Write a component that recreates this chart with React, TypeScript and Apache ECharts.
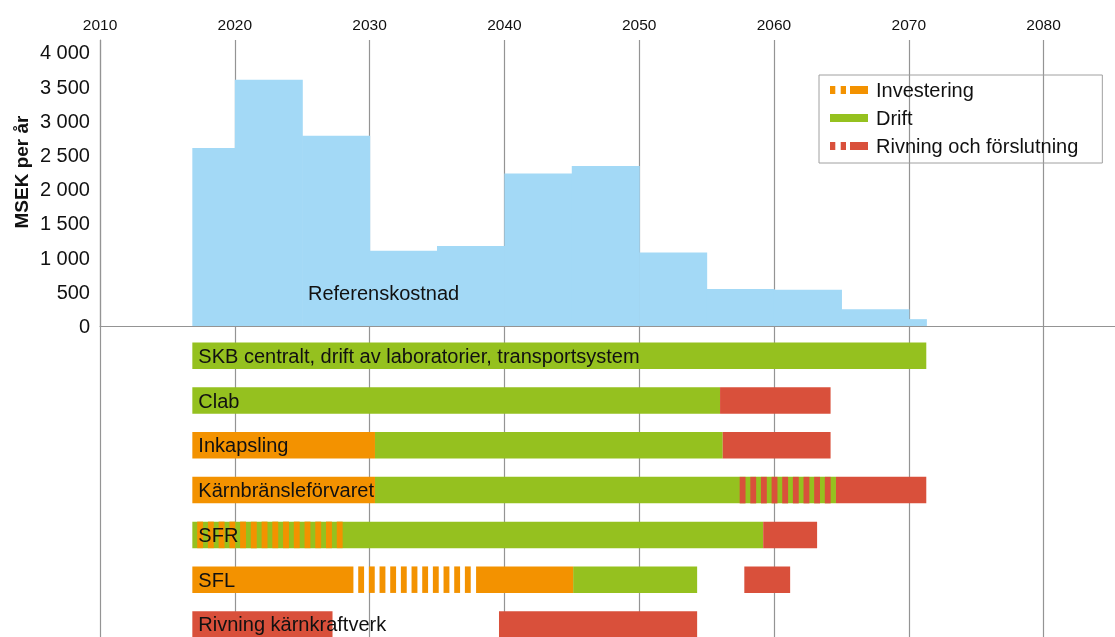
import React, { useEffect, useRef } from "react";
import * as echarts from "echarts";

// ---- Data ----
const costStart = [2016.85, 2020, 2025, 2030, 2035, 2040, 2045, 2050, 2055, 2060, 2065, 2070];
const costEnd = [2020, 2025, 2030, 2035, 2040, 2045, 2050, 2055, 2060, 2065, 2070, 2071.3];
const costValue = [2600, 3600, 2780, 1100, 1170, 2230, 2340, 1075, 540, 528, 244, 100];

const rowNames = [
  "SKB centralt, drift av laboratorier, transportsystem",
  "Clab",
  "Inkapsling",
  "Kärnbränsleförvaret",
  "SFR",
  "SFL",
  "Rivning kärnkraftverk",
];
const rowLabelStart = [2016.85, 2016.85, 2016.85, 2016.85, 2016.85, 2016.85, 2016.85];

// [row, start, end, striped(1) / solid(0)]
const investering = [
  [2, 2016.85, 2030.4, 0],
  [3, 2016.85, 2030.4, 0],
  [4, 2016.85, 2028.4, 1],
  [5, 2016.85, 2028.8, 0],
  [5, 2028.8, 2037.9, 1],
  [5, 2037.9, 2045.1, 0],
];
const drift = [
  [0, 2016.85, 2071.3, 0],
  [1, 2016.85, 2056.0, 0],
  [2, 2030.4, 2056.2, 0],
  [3, 2030.4, 2064.6, 0],
  [4, 2016.85, 2059.2, 0],
  [5, 2045.1, 2054.3, 0],
];
const rivning = [
  [1, 2056.0, 2064.2, 0],
  [2, 2056.2, 2064.2, 0],
  [3, 2057.1, 2064.6, 1],
  [3, 2064.6, 2071.3, 0],
  [4, 2059.2, 2063.2, 0],
  [5, 2057.8, 2061.2, 0],
  [6, 2016.85, 2027.25, 0],
  [6, 2039.6, 2054.3, 0],
];

const legendNames = ["Investering", "Drift", "Rivning och förslutning"];

// ---- Styles ----
const FONT = "'Liberation Sans', Arial, Helvetica, sans-serif";
const BLUE = "#a3d9f6";
const GREEN = "#95c11f";
const ORANGE = "#f39200";
const RED = "#d9503b";
const GRID = "#949494";
const BAR_H = 26.5;
const FS = 20;

function fmtThousands(v: number): string {
  if (v >= 1000) {
    const th = Math.floor(v / 1000);
    const rest = String(v % 1000).padStart(3, "0");
    return th + " " + rest;
  }
  return String(v);
}

function ganttRender(color: string) {
  return (params: any, api: any) => {
    const row = api.value(0);
    const s = api.value(1);
    const e = api.value(2);
    const striped = api.value(3);
    const a = api.coord([s, row]);
    const b = api.coord([e, row]);
    const x0 = a[0];
    const w = b[0] - a[0];
    const y = a[1] - BAR_H / 2;
    if (!striped) {
      return {
        type: "rect",
        shape: { x: x0, y, width: w, height: BAR_H },
        style: { fill: color },
      };
    }
    const n = Math.max(1, Math.round(w / 10.4 - 0.5));
    const p = w / (n + 0.5);
    const children: any[] = [];
    for (let i = 0; i < n; i++) {
      children.push({
        type: "rect",
        shape: { x: x0 + p * 0.45 + i * p, y, width: p * 0.55, height: BAR_H },
        style: { fill: color },
      });
    }
    return { type: "group", children };
  };
}

export default function App() {
  const ref = useRef<HTMLDivElement>(null);

  useEffect(() => {
    if (!ref.current) return;
    const chart = echarts.init(ref.current, undefined, { renderer: "svg" });

    const costData = costStart.map((s, i) => [s, costEnd[i], costValue[i]]);
    const labelData = rowNames.map((_, i) => [i, rowLabelStart[i]]);
    const dashIcon = "path://M0,0H5.3V8H0Z M10.7,0H16V8H10.7Z M20,0H38V8H20Z";
    const solidIcon = "path://M0,0H38V8H0Z";

    const xCommon = {
      type: "value",
      min: 2010,
      max: 2085.3,
      interval: 10,
      position: "top",
      axisTick: { show: false },
      splitLine: {
        show: true,
        showMaxLine: false,
        lineStyle: { color: GRID, width: 1.2 },
      },
    };

    const option: any = {
      animation: false,
      grid: [
        { left: 100, right: 0, top: 40, height: 286 },
        { left: 100, right: 0, top: 326, height: 311 },
      ],
      xAxis: [
        {
          ...xCommon,
          gridIndex: 0,
          axisLine: { show: false, onZero: false },
          axisLabel: {
            show: true,
            fontSize: 15.5,
            fontFamily: FONT,
            color: "#111",
            margin: 8,
            showMaxLabel: false,
            formatter: (v: number) => String(v),
          },
        },
        {
          ...xCommon,
          gridIndex: 1,
          axisLine: { show: true, onZero: false, lineStyle: { color: GRID, width: 1.2 } },
          axisLabel: { show: false },
        },
      ],
      yAxis: [
        {
          type: "value",
          gridIndex: 0,
          min: 0,
          max: 4180,
          interval: 500,
          axisLine: { show: true, onZero: false, lineStyle: { color: GRID, width: 1.2 } },
          axisTick: { show: false },
          splitLine: { show: false },
          axisLabel: {
            fontSize: FS,
            fontFamily: FONT,
            color: "#111",
            margin: 10,
            showMaxLabel: false,
            formatter: (v: number) => fmtThousands(v),
          },
        },
        {
          type: "value",
          gridIndex: 1,
          min: -0.665,
          max: 6.28,
          inverse: true,
          show: false,
        },
      ],
      legend: {
        orient: "vertical",
        left: 819,
        top: 75,
        selectedMode: false,
        data: [
          { name: legendNames[0], icon: dashIcon },
          { name: legendNames[1], icon: solidIcon },
          { name: legendNames[2], icon: dashIcon },
        ],
        itemWidth: 38,
        itemHeight: 8,
        itemGap: 8,
        borderColor: "#a0a0a0",
        borderWidth: 1,
        padding: [5, 24, 7, 11],
        textStyle: {
          fontSize: FS,
          fontFamily: FONT,
          color: "#111",
          lineHeight: 20,
          padding: [0, 0, 0, 3],
        },
      },
      graphic: [
        {
          type: "text",
          x: 21,
          y: 172,
          rotation: Math.PI / 2,
          style: {
            text: "MSEK per år",
            fontSize: 19,
            fontWeight: "bold",
            fontFamily: FONT,
            fill: "#111",
            align: "center",
            verticalAlign: "middle",
          },
        },
        {
          type: "text",
          x: 308,
          y: 293,
          z: 100,
          style: {
            text: "Referenskostnad",
            fontSize: FS,
            fontFamily: FONT,
            fill: "#111",
            align: "left",
            verticalAlign: "middle",
          },
        },
      ],
      series: [
        {
          type: "custom",
          name: "Referenskostnad",
          xAxisIndex: 0,
          yAxisIndex: 0,
          data: costData,
          z: 2,
          renderItem: (params: any, api: any) => {
            const s = api.value(0);
            const e = api.value(1);
            const v = api.value(2);
            const p0 = api.coord([s, v]);
            const p1 = api.coord([e, 0]);
            return {
              type: "rect",
              shape: { x: p0[0], y: p0[1], width: p1[0] - p0[0] + 0.6, height: p1[1] - p0[1] },
              style: { fill: BLUE },
            };
          },
        },
        {
          type: "custom",
          name: legendNames[1],
          xAxisIndex: 1,
          yAxisIndex: 1,
          data: drift,
          z: 2,
          itemStyle: { color: GREEN },
          renderItem: ganttRender(GREEN),
        },
        {
          type: "custom",
          name: legendNames[0],
          xAxisIndex: 1,
          yAxisIndex: 1,
          data: investering,
          z: 3,
          itemStyle: { color: ORANGE },
          renderItem: ganttRender(ORANGE),
        },
        {
          type: "custom",
          name: legendNames[2],
          xAxisIndex: 1,
          yAxisIndex: 1,
          data: rivning,
          z: 3,
          itemStyle: { color: RED },
          renderItem: ganttRender(RED),
        },
        {
          type: "custom",
          name: "labels",
          xAxisIndex: 1,
          yAxisIndex: 1,
          data: labelData,
          z: 5,
          clip: false,
          renderItem: (params: any, api: any) => {
            const row = api.value(0);
            const s = api.value(1);
            const a = api.coord([s, row]);
            return {
              type: "text",
              x: a[0] + 6,
              y: a[1],
              style: {
                text: rowNames[row],
                fontSize: FS,
                fontFamily: FONT,
                fill: "#111",
                align: "left",
                verticalAlign: "middle",
              },
            };
          },
        },
      ],
    };

    chart.setOption(option);
    return () => {
      chart.dispose();
    };
  }, []);

  return (
    <div
      ref={ref}
      style={{ position: "fixed", left: 0, top: 0, width: 1115, height: 637 }}
    />
  );
}
